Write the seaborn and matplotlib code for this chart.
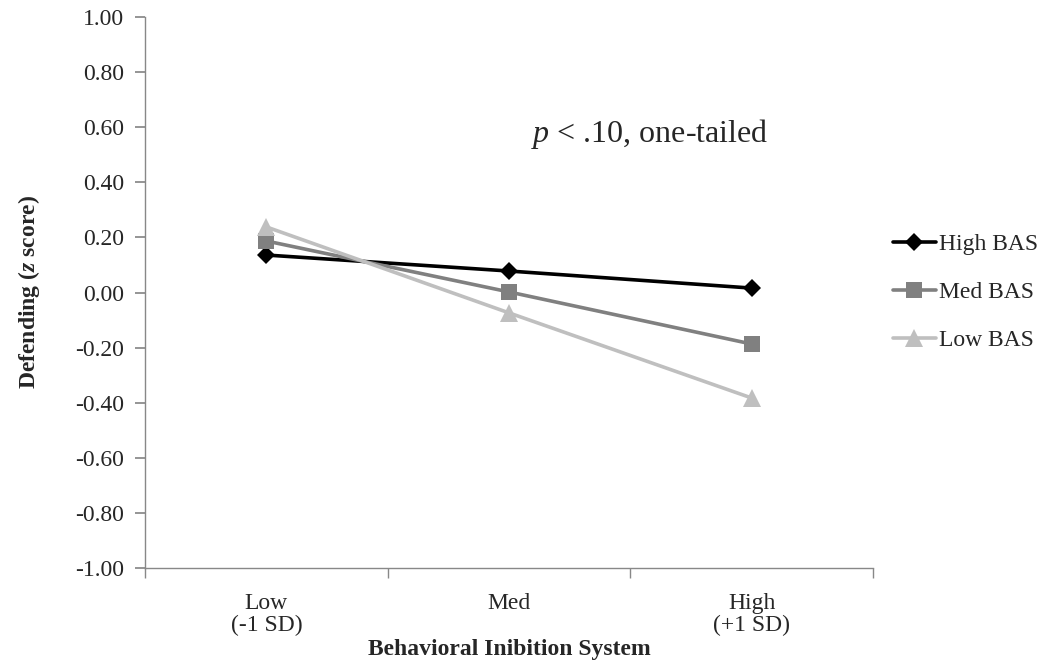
import matplotlib
matplotlib.use("Agg")
import matplotlib.pyplot as plt
import seaborn as sns
import pandas as pd
from matplotlib.ticker import FixedLocator

categories = ["Low\n(-1 SD)", "Med", "High\n(+1 SD)"]
series = ["High BAS", "Med BAS", "Low BAS"]
high_bas = [0.136, 0.078, 0.016]
med_bas = [0.187, 0.002, -0.187]
low_bas = [0.238, -0.074, -0.383]
yticks = [-1.0, -0.8, -0.6, -0.4, -0.2, 0.0, 0.2, 0.4, 0.6, 0.8, 1.0]

sns.set_theme(style="white")
plt.rcParams["font.family"] = ["Liberation Serif", "DejaVu Serif"]
plt.rcParams["mathtext.fontset"] = "custom"
plt.rcParams["mathtext.rm"] = "Liberation Serif"
plt.rcParams["mathtext.it"] = "Liberation Serif:italic"
plt.rcParams["mathtext.bf"] = "Liberation Serif:bold"
plt.rcParams["mathtext.bfit"] = "Liberation Serif:italic:bold"

rows = []
for name, vals in zip(series, [high_bas, med_bas, low_bas]):
    for c, v in zip(categories, vals):
        rows.append({"cat": c, "val": v, "series": name})
df = pd.DataFrame(rows)

fig = plt.figure(figsize=(10.45, 6.65), dpi=100)
ax = fig.add_axes([0.1388, 0.1459, 0.8354 - 0.1388, 0.9744 - 0.1459])

palette = {"High BAS": "#000000", "Med BAS": "#808080", "Low BAS": "#bfbfbf"}
markers = {"High BAS": "D", "Med BAS": "s", "Low BAS": "^"}
sizes_m = {"High BAS": 9.5, "Med BAS": 11, "Low BAS": 12.5}

for name in series:
    sub = df[df["series"] == name]
    sns.lineplot(data=sub, x="cat", y="val", ax=ax, color=palette[name],
                 marker=markers[name], markersize=sizes_m[name],
                 markeredgewidth=0, linewidth=2.6, label=name, sort=False)

ax.set_xlim(-0.5, 2.5)
ax.set_ylim(-1.0, 1.0)
ax.set_yticks(yticks)
ax.set_yticklabels([f"{t:.2f}" for t in yticks], fontsize=17)
ax.set_xticks(range(3))
ax.set_xticklabels(categories, fontsize=17, linespacing=1.05)
ax.xaxis.set_minor_locator(FixedLocator([-0.5, 0.5, 1.5, 2.5]))
ax.tick_params(axis="x", which="major", length=0, pad=18)
ax.tick_params(axis="x", which="minor", length=7, color="#888888", direction="out", bottom=True)
ax.tick_params(axis="y", which="major", length=7, color="#888888", direction="out", left=True, pad=8)

for s in ["top", "right"]:
    ax.spines[s].set_visible(False)
for s in ["left", "bottom"]:
    ax.spines[s].set_color("#888888")
    ax.spines[s].set_linewidth(1.0)

ax.set_xlabel("Behavioral Inibition System", fontsize=17, fontweight="bold", labelpad=2)
ax.set_ylabel(r"Defending ($\mathbfit{z}$ score)", fontsize=17, fontweight="bold", labelpad=24)

ax.text(1.58, 0.575, r"$p$ < .10, one-tailed", fontsize=23, ha="center", va="center")

leg = ax.legend(loc="center left", bbox_to_anchor=(1.027, 0.5), frameon=False,
                fontsize=17, handlelength=1.85, handletextpad=0.1, labelspacing=1.12,
                borderaxespad=0, borderpad=0)

fig.savefig("out.png", dpi=100)
